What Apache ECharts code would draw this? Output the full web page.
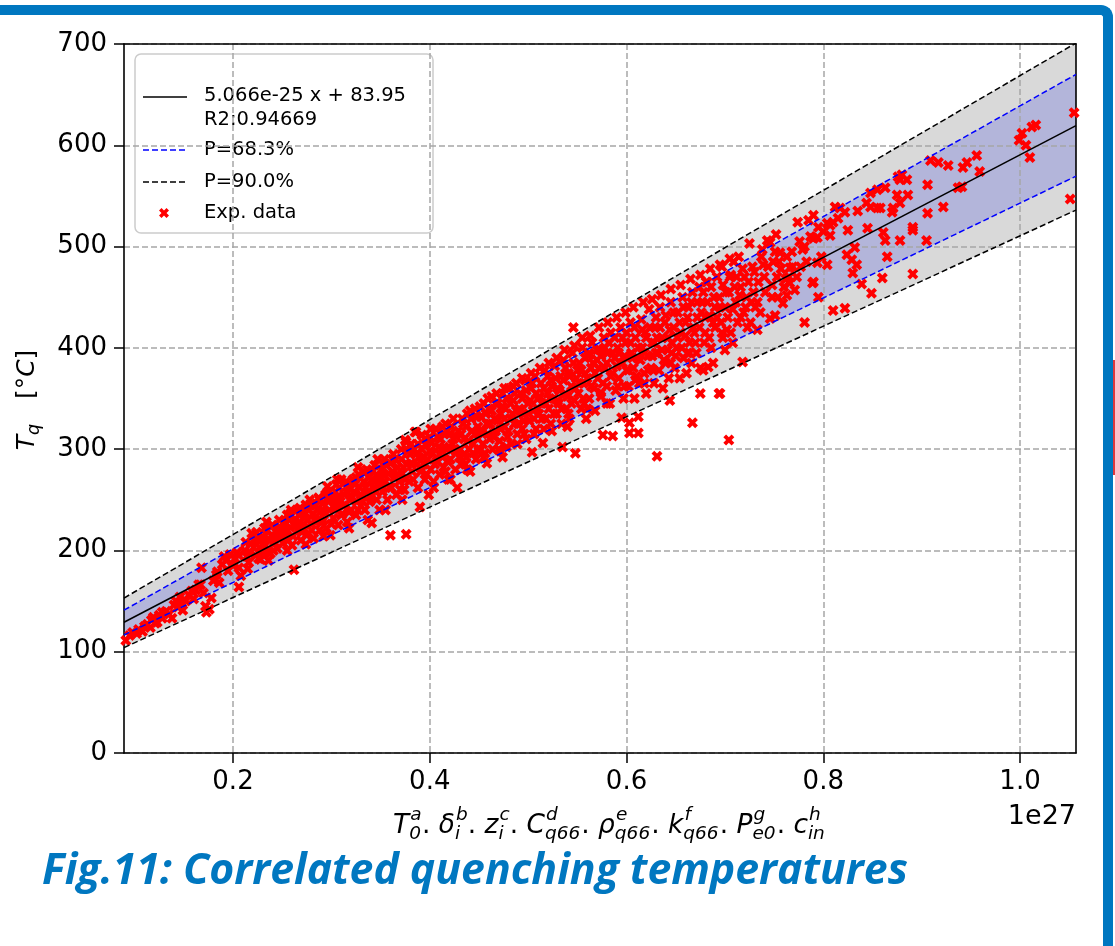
<!DOCTYPE html>
<html><head><meta charset="utf-8">
<script src="https://cdn.jsdelivr.net/npm/echarts@6/dist/echarts.min.js"></script>
<style>
html,body{margin:0;padding:0;background:#fff;}
#wrap{position:relative;width:1115px;height:946px;overflow:hidden;}
#frame{position:absolute;left:-20px;top:5px;width:1133px;height:1000px;border-top:10px solid #0077c0;border-right:10px solid #0077c0;border-top-right-radius:12px;box-sizing:border-box;}
#redmark{position:absolute;left:1113px;top:360px;width:2px;height:115px;background:#e0393e;}
#chart{position:absolute;left:0;top:0;width:1115px;height:946px;}
</style></head>
<body><div id="wrap"><div id="frame"></div><div id="redmark"></div><div id="chart"></div></div>
<script>
// ---- data (x in units of 1e27) ----
const xTicks = [0.2, 0.4, 0.6, 0.8, 1.0];
const xRange = [0.0892, 1.0569];
const yRange = [0, 700];
const fitLine = [[0.0892, 129.1], [1.0569, 619.4]];
const band68Upper = [[0.0892, 141], [1.0569, 670]];
const band68Lower = [[0.0892, 116.5], [1.0569, 569.5]];
const band90Upper = [[0.0892, 153], [1.0569, 701]];
const band90Lower = [[0.0892, 104], [1.0569, 536]];
const legendTexts = ['5.066e-25 x + 83.95', 'R2:0.94669', 'P=68.3%', 'P=90.0%', 'Exp. data'];
const captionText = 'Fig.11: Correlated quenching temperatures';
const expData = [
[0.091,111],[0.095,116],[0.098,119],[0.102,118],[0.104,122],[0.108,120],[0.110,125],
[0.113,127],[0.116,124],[0.117,131],[0.119,134],[0.121,128],[0.123,129],[0.125,136],[0.128,139],[0.128,133],
[0.132,140],[0.135,137],[0.138,133],[0.140,146],[0.142,150],[0.144,144],[0.146,154],[0.148,148],[0.149,141],
[0.152,150],[0.155,156],[0.158,160],[0.160,152],[0.162,161],[0.165,166],[0.167,166],[0.168,183],[0.170,158],
[0.172,145],[0.173,139],[0.176,142],[0.178,153],[0.180,170],[0.183,176],[0.184,179],[0.186,168],[0.189,186],
[0.191,194],[0.193,190],[0.195,180],[0.197,196],[0.199,186],[0.202,192],[0.204,198],[0.206,195],[0.206,183],[0.206,164],[0.208,175],
[0.212,200],[0.214,194],[0.216,188],[0.218,207],[0.219,217],[0.221,203],[0.223,195],[0.225,210],[0.226,192],[0.228,191],[0.229,212],
[0.213,208],[0.217,198],[0.222,210],[0.227,203],[0.230,198],
[0.231,213],[0.233,205],[0.235,220],[0.236,199],[0.238,197],[0.239,215],[0.240,225],[0.242,208],[0.244,218],[0.245,202],[0.247,230],[0.248,212],[0.249,222],
[0.232,222],[0.237,210],[0.241,200],[0.246,222],[0.250,215],
[0.251,207],[0.252,228],[0.254,216],[0.255,235],[0.256,210],[0.258,223],[0.259,240],[0.261,214],[0.262,181],[0.263,230],[0.265,240],[0.266,220],[0.268,228],[0.269,210],
[0.253,222],[0.257,230],[0.260,205],[0.264,225],[0.267,235],[0.270,218],
[0.271,238],[0.272,222],[0.274,245],[0.275,215],[0.276,230],[0.278,250],[0.279,226],[0.281,236],[0.282,212],[0.284,244],[0.285,228],[0.287,252],[0.288,220],[0.289,238],
[0.273,232],[0.277,240],[0.280,220],[0.283,230],[0.286,240],[0.290,228],
[0.291,246],[0.292,230],[0.294,255],[0.295,222],[0.296,263],[0.298,240],[0.299,215],[0.301,250],[0.302,232],[0.304,258],[0.305,242],[0.307,225],[0.308,262],[0.310,270],[0.309,248],
[0.293,238],[0.297,248],[0.300,226],[0.303,244],[0.306,252],[0.310,235],
[0.311,236],[0.313,255],[0.314,245],[0.316,228],[0.317,262],[0.319,250],[0.320,240],[0.322,270],[0.323,258],[0.325,235],[0.326,248],[0.328,275],[0.329,262],[0.330,244],
[0.312,244],[0.315,268],[0.318,238],[0.321,252],[0.324,265],[0.327,240],[0.330,255],
[0.331,254],[0.333,268],[0.334,240],[0.336,280],[0.337,258],[0.339,248],[0.341,227],[0.341,270],[0.343,262],[0.344,284],[0.346,250],[0.347,274],[0.349,265],[0.349,240],
[0.332,248],[0.335,262],[0.338,272],[0.340,252],[0.342,278],[0.345,258],[0.348,270],
[0.351,280],[0.352,258],[0.354,290],[0.355,268],[0.357,250],[0.358,276],[0.360,215],[0.360,286],[0.361,262],[0.363,295],[0.364,272],[0.366,255],[0.367,282],[0.369,268],
[0.350,262],[0.353,275],[0.356,284],[0.359,262],[0.362,278],[0.365,290],[0.368,275],[0.370,260],
[0.371,290],[0.372,276],[0.374,260],[0.375,309],[0.376,307],[0.376,216],[0.377,285],[0.379,268],[0.380,295],[0.382,278],[0.384,300],[0.385,317],[0.386,317],[0.387,285],[0.388,262],[0.389,292],
[0.373,282],[0.375,270],[0.378,298],[0.381,286],[0.383,270],[0.386,295],[0.388,305],[0.390,282],
[0.390,243],[0.391,278],[0.392,300],[0.394,285],[0.395,270],[0.396,305],[0.398,290],[0.399,255],[0.400,312],[0.401,280],[0.403,296],[0.404,268],[0.406,320],[0.407,288],[0.409,302],[0.410,275],
[0.393,292],[0.395,310],[0.397,275],[0.400,298],[0.402,306],[0.405,285],[0.408,312],[0.410,295],[0.404,262],
[0.411,310],[0.413,292],[0.414,282],[0.416,325],[0.417,300],[0.419,270],[0.420,315],[0.421,290],[0.423,305],[0.424,330],[0.426,280],[0.427,298],[0.428,262],[0.429,318],
[0.412,300],[0.415,315],[0.418,288],[0.420,302],[0.422,322],[0.425,300],[0.427,312],[0.430,292],[0.416,278],
[0.431,300],[0.432,285],[0.434,325],[0.435,310],[0.437,292],[0.438,335],[0.440,300],[0.441,278],[0.443,318],[0.444,305],[0.446,340],[0.447,290],[0.449,322],[0.449,310],
[0.432,315],[0.435,295],[0.437,322],[0.439,308],[0.442,330],[0.444,296],[0.446,315],[0.448,332],[0.450,298],[0.436,285],
[0.451,300],[0.452,332],[0.454,318],[0.455,345],[0.456,296],[0.458,286],[0.458,325],[0.460,340],[0.461,310],[0.463,352],[0.464,300],[0.466,330],[0.467,318],[0.469,345],
[0.452,318],[0.454,305],[0.457,335],[0.459,315],[0.461,325],[0.463,338],[0.465,312],[0.467,345],[0.469,328],[0.470,300],
[0.471,308],[0.472,335],[0.474,292],[0.474,355],[0.476,322],[0.477,340],[0.479,312],[0.480,360],[0.482,330],[0.483,305],[0.485,348],[0.486,325],[0.488,365],[0.489,315],
[0.472,320],[0.474,342],[0.476,330],[0.478,350],[0.480,318],[0.482,345],[0.484,335],[0.486,355],[0.488,338],[0.490,325],[0.478,302],
[0.491,340],[0.492,355],[0.494,320],[0.495,335],[0.497,368],[0.498,310],[0.500,345],[0.501,328],[0.503,360],[0.504,297],[0.505,338],[0.507,372],[0.508,320],[0.510,350],
[0.492,338],[0.494,350],[0.496,328],[0.498,358],[0.500,335],[0.502,348],[0.504,365],[0.506,330],[0.508,355],[0.510,340],[0.496,315],
[0.511,335],[0.513,365],[0.514,345],[0.515,306],[0.517,378],[0.518,330],[0.520,355],[0.521,340],[0.523,368],[0.524,318],[0.526,350],[0.527,382],[0.529,335],[0.530,360],
[0.512,352],[0.514,330],[0.516,360],[0.518,345],[0.520,372],[0.522,350],[0.524,362],[0.526,335],[0.528,370],[0.530,348],[0.516,320],
[0.531,345],[0.533,372],[0.534,325],[0.535,302],[0.536,388],[0.538,355],[0.539,340],[0.541,375],[0.542,330],[0.544,362],[0.545,395],[0.546,420],[0.547,348],[0.548,296],[0.549,370],
[0.532,358],[0.534,340],[0.536,368],[0.538,380],[0.540,352],[0.542,372],[0.544,345],[0.546,385],[0.548,360],[0.550,378],[0.540,322],
[0.551,355],[0.552,385],[0.554,340],[0.555,400],[0.556,365],[0.558,375],[0.559,330],[0.561,392],[0.562,350],[0.564,380],[0.565,405],[0.567,360],[0.568,338],[0.570,388],
[0.552,365],[0.554,378],[0.556,350],[0.558,390],[0.560,370],[0.562,395],[0.564,362],[0.566,385],[0.568,375],[0.570,398],[0.560,340],
[0.571,370],[0.573,398],[0.574,352],[0.576,314],[0.577,410],[0.578,380],[0.580,362],[0.581,395],[0.583,345],[0.584,415],[0.586,313],[0.586,375],[0.588,390],[0.589,358],
[0.572,380],[0.574,392],[0.576,365],[0.578,400],[0.580,385],[0.582,405],[0.584,372],[0.586,395],[0.588,410],[0.590,382],[0.580,345],
[0.591,400],[0.592,370],[0.594,420],[0.595,331],[0.596,385],[0.597,350],[0.599,405],[0.600,378],[0.602,362],[0.603,316],[0.603,326],[0.604,425],[0.605,395],[0.607,380],[0.608,350],[0.609,410],
[0.592,395],[0.594,385],[0.596,410],[0.598,392],[0.600,415],[0.602,378],[0.604,405],[0.606,390],[0.608,420],[0.610,372],[0.598,362],
[0.611,390],[0.612,316],[0.612,332],[0.613,365],[0.615,428],[0.616,400],[0.618,375],[0.619,415],[0.620,355],[0.622,392],[0.623,438],[0.625,380],[0.626,405],[0.628,365],[0.629,420],[0.631,293],[0.630,395],
[0.612,400],[0.614,388],[0.616,418],[0.618,395],[0.620,410],[0.622,378],[0.624,420],[0.626,392],[0.628,405],[0.630,430],[0.618,365],
[0.631,410],[0.633,378],[0.634,440],[0.636,398],[0.637,360],[0.639,425],[0.640,385],[0.642,410],[0.643,370],[0.644,348],[0.645,445],[0.646,395],[0.648,420],[0.649,380],
[0.632,395],[0.634,420],[0.636,410],[0.638,388],[0.640,432],[0.642,398],[0.644,418],[0.646,405],[0.648,435],[0.650,392],
[0.651,400],[0.652,435],[0.654,370],[0.655,415],[0.657,450],[0.658,390],[0.660,425],[0.661,375],[0.663,440],[0.664,405],[0.666,385],[0.667,326],[0.667,455],[0.669,415],
[0.652,410],[0.654,425],[0.656,400],[0.658,440],[0.660,412],[0.662,430],[0.664,395],[0.666,445],[0.668,420],[0.670,405],
[0.671,395],[0.672,430],[0.674,460],[0.675,355],[0.675,380],[0.677,445],[0.678,378],[0.680,415],[0.681,465],[0.682,465],[0.683,381],[0.684,432],[0.686,400],[0.688,385],[0.689,450],
[0.672,445],[0.674,420],[0.676,435],[0.678,455],[0.680,430],[0.682,445],[0.684,410],[0.686,460],[0.688,425],[0.690,440],
[0.690,420],[0.692,470],[0.694,355],[0.695,355],[0.695,440],[0.697,480],[0.698,410],[0.700,398],[0.701,455],[0.703,430],[0.704,309],[0.705,470],[0.706,415],[0.708,405],[0.709,485],
[0.692,430],[0.694,450],[0.696,425],[0.698,462],[0.700,440],[0.702,418],[0.704,455],[0.706,472],[0.708,438],[0.710,460],
[0.711,445],[0.713,425],[0.714,490],[0.716,460],[0.718,386],[0.719,435],[0.720,470],[0.722,450],[0.723,420],[0.725,503],[0.726,425],[0.728,480],[0.729,455],
[0.712,470],[0.715,452],[0.718,478],[0.721,440],[0.724,465],[0.727,445],[0.730,475],
[0.731,440],[0.733,418],[0.734,465],[0.736,435],[0.737,490],[0.738,497],[0.740,470],[0.741,455],[0.743,506],[0.744,480],[0.746,429],[0.746,504],[0.748,462],[0.749,485],
[0.751,432],[0.751,495],[0.753,470],[0.754,450],[0.756,494],[0.757,478],[0.759,444],[0.760,460],[0.763,490],[0.763,452],[0.765,470],[0.766,479],[0.766,464],[0.769,480],
[0.771,457],[0.773,470],[0.774,524],[0.776,505],[0.779,497],[0.781,500],[0.781,425],[0.783,485],[0.785,526],[0.787,510],[0.789,464],[0.790,465],[0.790,508],[0.790,531],
[0.794,509],[0.794,484],[0.795,519],[0.795,450],[0.798,490],[0.800,515],[0.804,523],[0.804,482],[0.807,521],[0.807,511],[0.810,524],[0.810,437],
[0.812,539],[0.815,528],[0.817,538],[0.822,534],[0.822,439],[0.824,492],[0.825,516],[0.829,487],
[0.830,474],[0.832,499],[0.834,482],[0.835,535],[0.839,463],[0.844,543],[0.845,518],[0.848,553],[0.848,539],[0.849,454],
[0.855,556],[0.855,538],[0.858,538],[0.860,469],[0.861,514],[0.863,558],[0.863,506],[0.865,490],[0.870,534],
[0.871,538],[0.875,551],[0.876,569],[0.878,566],[0.878,543],[0.878,506],[0.880,571],[0.885,566],[0.886,551],[0.891,519],[0.891,516],
[0.891,473],[0.905,506],[0.906,561],[0.906,533],[0.909,585],[0.917,583],[0.922,539],[0.927,580],
[0.937,558],[0.941,559],[0.942,578],[0.946,583],[0.956,590],[0.959,574],
[0.999,605],[1.002,612],[1.006,600],[1.010,588],[1.012,618],[1.016,620],[1.051,547],[1.055,632],
[0.224,218],[0.234,228],[0.243,212],[0.258,236],[0.268,242],[0.279,246],[0.288,250],[0.297,258],[0.305,265],[0.316,258],[0.325,272],[0.333,278],[0.344,268],
[0.353,286],[0.362,290],[0.371,300],[0.381,305],[0.392,314],[0.401,320],[0.413,322],[0.424,310],[0.433,330],[0.441,338],[0.451,342],[0.459,350],[0.468,355],
[0.476,360],[0.485,362],[0.494,370],[0.503,375],[0.512,380],[0.521,385],[0.529,390],[0.537,398],[0.547,402],[0.555,410],[0.563,412],[0.572,420],[0.581,425],
[0.590,430],[0.599,435],[0.607,440],[0.617,445],[0.626,448],[0.635,452],[0.645,458],[0.655,462],[0.665,468],[0.675,472],[0.685,478],[0.695,482],[0.705,488],
[0.421,270],[0.438,280],[0.455,292],[0.472,298],[0.489,305],[0.506,315],[0.523,325],[0.541,335],[0.557,345],[0.574,356],[0.591,362],[0.609,368],[0.627,378],
[0.645,385],[0.662,395],[0.679,405],[0.697,415],[0.716,430],[0.733,445],[0.748,450],[0.762,468],[0.777,480],[0.739,482],[0.755,485],[0.768,495],[0.752,512],
[0.215,182],[0.236,190],[0.255,200],[0.274,206],[0.292,214],[0.296,256],[0.318,222],[0.337,230],[0.355,240],[0.372,250],[0.306,270],[0.327,282],[0.347,290]
];

// ---- helpers ----
const BLUE = '#0000ff';
const MFONT = '"DejaVu Sans", sans-serif';
const ctx = document.createElement('canvas').getContext('2d');
function measure(t, size, italic, fam, weight) {
  ctx.font = (italic ? 'italic ' : '') + (weight ? weight + ' ' : '') + size + 'px ' + (fam || '"DejaVu Sans"');
  return ctx.measureText(t).width;
}
function txt(x, y, t, size, italic, fill, align) {
  return { type: 'text', x: x, y: y, style: { text: t, fontSize: size, fontFamily: MFONT,
    fontStyle: italic ? 'italic' : 'normal', fill: fill || '#000', align: align || 'left', verticalAlign: 'middle' } };
}
function buildMath(pieces, size) {
  const out = []; let cx = 0; const ss = size * 0.7;
  pieces.forEach(p => {
    const w = measure(p.t, size, p.it);
    out.push(txt(cx, 0, p.t, size, p.it));
    cx += w;
    if (p.sup || p.sub) {
      const ox = cx + (p.it ? size * 0.04 : 0);
      let adv = 0;
      if (p.sup) { out.push(txt(ox, -size * 0.42, p.sup, ss, true)); adv = Math.max(adv, measure(p.sup, ss, true)); }
      if (p.sub) { out.push(txt(cx, size * 0.30, p.sub, ss, true)); adv = Math.max(adv, measure(p.sub, ss, true)); }
      cx += adv + size * 0.04;
    }
  });
  return { children: out, width: cx };
}
const dot = { t: '. ', it: false };
const xLabelPieces = [
  { t: 'T', it: true, sup: 'a', sub: '0' }, dot,
  { t: 'δ', it: true, sup: 'b', sub: 'i' }, dot,
  { t: 'z', it: true, sup: 'c', sub: 'i' }, dot,
  { t: 'C', it: true, sup: 'd', sub: 'q66' }, dot,
  { t: 'ρ', it: true, sup: 'e', sub: 'q66' }, dot,
  { t: 'k', it: true, sup: 'f', sub: 'q66' }, dot,
  { t: 'P', it: true, sup: 'g', sub: 'e0' }, dot,
  { t: 'c', it: true, sup: 'h', sub: 'in' }
];
const yLabelPieces = [{ t: 'T', it: true, sub: 'q' }, { t: '   [°', it: false }, { t: 'C', it: true }, { t: ']', it: false }];

const xl0 = buildMath(xLabelPieces, 26);
const xl = buildMath(xLabelPieces, 26 * 433 / xl0.width);
const yl = buildMath(yLabelPieces, 25);

const capFam = '"Open Sans", sans-serif';
const capSize = 35 * 866 / measure(captionText, 35, true, capFam, 'bold');

function xShape(cx, cy, s) {
  const u = [[0,2.5],[2.5,0],[5,2.5],[7.5,0],[10,2.5],[7.5,5],[10,7.5],[7.5,10],[5,7.5],[2.5,10],[0,7.5],[2.5,5]];
  return u.map(p => [cx + (p[0] - 5) * s / 10, cy + (p[1] - 5) * s / 10]);
}

function bandSeries(upper, lower, color) {
  return {
    type: 'custom', z: -1, silent: true, data: [[upper[0][0], upper[0][1]]],
    renderItem: function (params, api) {
      const pts = upper.map(p => api.coord(p)).concat(lower.slice().reverse().map(p => api.coord(p)));
      return { type: 'polygon', shape: { points: pts }, style: { fill: color } };
    }
  };
}

const chart = echarts.init(document.getElementById('chart'), null, { renderer: 'canvas' });
const gridCol = '#a6a6a6';
const option = {
  animation: false,
  grid: { left: 124, right: 39, top: 44, bottom: 193, containLabel: false },
  xAxis: [{
    type: 'value', min: xRange[0], max: xRange[1],
    axisLine: { show: true, onZero: false, lineStyle: { color: '#000', width: 1.6 } },
    axisTick: { show: true, length: 10, lineStyle: { color: '#000', width: 1.5 }, customValues: xTicks },
    axisLabel: { customValues: xTicks, formatter: v => v.toFixed(1), fontSize: 26, color: '#000',
      fontFamily: MFONT, margin: 16 },
    splitLine: { show: true, lineStyle: { color: gridCol, width: 1.5, type: [6, 3] } }
  }, {
    type: 'value', position: 'top', min: xRange[0], max: xRange[1],
    axisLine: { show: true, onZero: false, lineStyle: { color: '#000', width: 1.6 } },
    axisTick: { show: false }, axisLabel: { show: false }, splitLine: { show: false }
  }],
  yAxis: [{
    type: 'value', min: yRange[0], max: yRange[1], interval: 100,
    axisLine: { show: true, onZero: false, lineStyle: { color: '#000', width: 1.6 } },
    axisTick: { show: true, length: 10, lineStyle: { color: '#000', width: 1.5 } },
    axisLabel: { fontSize: 26, color: '#000', fontFamily: MFONT, margin: 17 },
    splitLine: { show: true, lineStyle: { color: gridCol, width: 1.5, type: [6, 3] } }
  }, {
    type: 'value', position: 'right', min: yRange[0], max: yRange[1],
    axisLine: { show: true, onZero: false, lineStyle: { color: '#000', width: 1.6 } },
    axisTick: { show: false }, axisLabel: { show: false }, splitLine: { show: false }
  }],
  series: [
    bandSeries(band90Upper, band90Lower, '#d9d9d9'),
    bandSeries(band68Upper, band68Lower, '#b3b5da'),
    { type: 'scatter', data: expData, symbol: 'path://M0,2.5 L2.5,0 L5,2.5 L7.5,0 L10,2.5 L7.5,5 L10,7.5 L7.5,10 L5,7.5 L2.5,10 L0,7.5 L2.5,5 Z',
      symbolSize: 11, itemStyle: { color: '#ff0000', opacity: 1 }, z: 3, silent: true, large: false },
    { type: 'line', data: band68Upper, symbol: 'none', z: 4, lineStyle: { color: BLUE, width: 1.5, type: [6, 3] } },
    { type: 'line', data: band68Lower, symbol: 'none', z: 4, lineStyle: { color: BLUE, width: 1.5, type: [6, 3] } },
    { type: 'line', data: band90Upper, symbol: 'none', z: 4, lineStyle: { color: '#000', width: 1.5, type: [6, 3] } },
    { type: 'line', data: band90Lower, symbol: 'none', z: 4, lineStyle: { color: '#000', width: 1.5, type: [6, 3] } },
    { type: 'line', data: fitLine, symbol: 'none', z: 5, lineStyle: { color: '#000', width: 1.5 } }
  ],
  graphic: [
    { type: 'group', z: 100, children: [
      { type: 'rect', shape: { x: 135, y: 54, width: 298, height: 179, r: 6 },
        style: { fill: 'rgba(255,255,255,0.8)', stroke: '#cccccc', lineWidth: 1.5 } },
      { type: 'line', shape: { x1: 143, y1: 97, x2: 187, y2: 97 }, style: { stroke: '#000', lineWidth: 1.5 } },
      txt(204, 96, legendTexts[0], 19.5),
      txt(204, 120, legendTexts[1], 19.5),
      { type: 'line', shape: { x1: 143, y1: 150, x2: 187, y2: 150 }, style: { stroke: BLUE, lineWidth: 1.5, lineDash: [6, 3] } },
      txt(204, 150, legendTexts[2], 19.5),
      { type: 'line', shape: { x1: 143, y1: 182, x2: 187, y2: 182 }, style: { stroke: '#000', lineWidth: 1.5, lineDash: [6, 3] } },
      txt(204, 182, legendTexts[3], 19.5),
      { type: 'polygon', shape: { points: xShape(164, 213, 10) }, style: { fill: '#ff0000' } },
      txt(204, 213, legendTexts[4], 19.5)
    ]},
    { type: 'group', x: 393, y: 826, children: xl.children },
    { type: 'group', x: 27, y: 400 + yl.width / 2, rotation: Math.PI / 2, children: yl.children },
    txt(1076, 817, '1e27', 27, false, '#000', 'right'),
    { type: 'text', x: 42, y: 872, style: { text: captionText, fill: '#0077c0',
      fontSize: capSize, fontWeight: 'bold', fontStyle: 'italic', fontFamily: capFam, verticalAlign: 'middle' } }
  ]
};
chart.setOption(option);
</script></body></html>
